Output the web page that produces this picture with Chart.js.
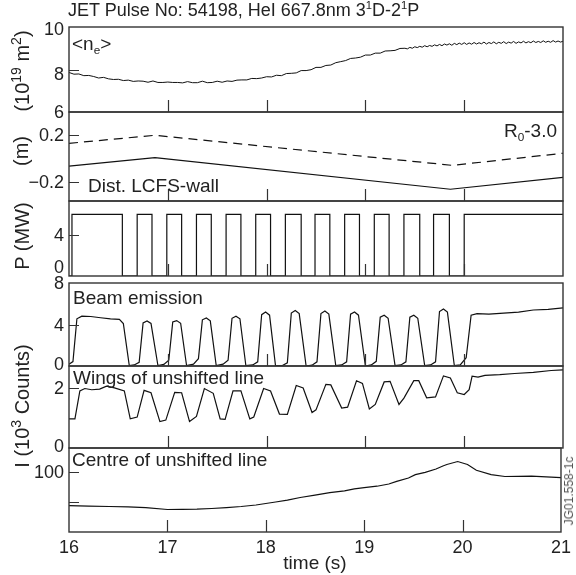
<!DOCTYPE html>
<html>
<head>
<meta charset="utf-8">
<title>JET Pulse No: 54198</title>
<script src="https://cdn.jsdelivr.net/npm/chart.js@4.4.1/dist/chart.umd.min.js"></script>
<style>
  body { margin: 0; background: #fff; }
  #fig { position: relative; width: 576px; height: 575px; overflow: hidden;
         font-family: "Liberation Sans", Arial, Helvetica, sans-serif; color: #222; }
  #fig canvas { position: absolute; left: 0; }
  .txt { position: absolute; white-space: nowrap; line-height: 1; transform: translateY(-50%); }
  .rot { position: absolute; white-space: nowrap; line-height: 1; transform: translate(-50%, -50%) rotate(-90deg); }
  sup, sub { font-size: 0.62em; line-height: 0; }
  .rot sup { font-size: 0.7em; }
</style>
</head>
<body>
<div id="fig">
  <canvas id="pNe"></canvas>
  <canvas id="pDist"></canvas>
  <canvas id="pPower"></canvas>
  <canvas id="pBeam"></canvas>
  <canvas id="pWings"></canvas>
  <canvas id="pCentre"></canvas>

  <div class="txt" style="left:68px;top:10px;font-size:18px">JET Pulse No: 54198, HeI 667.8nm 3<sup>1</sup>D-2<sup>1</sup>P</div>
  <div class="txt" style="left:72px;top:43px;font-size:19px">&lt;n<sub>e</sub>&gt;</div>
  <div class="txt" style="right:19px;top:130px;font-size:19px">R<sub>0</sub>-3.0</div>
  <div class="txt" style="left:88px;top:185px;font-size:19px">Dist. LCFS-wall</div>
  <div class="txt" style="left:73px;top:297px;font-size:19px">Beam emission</div>
  <div class="txt" style="left:73px;top:377px;font-size:19px">Wings of unshifted line</div>
  <div class="txt" style="left:72px;top:459px;font-size:19px">Centre of unshifted line</div>

  <div class="rot" style="left:22px;top:71px;font-size:20px">(10<sup>19</sup> m<sup>2</sup>)</div>
  <div class="rot" style="left:21px;top:151px;font-size:20px">(m)</div>
  <div class="rot" style="left:22px;top:236px;font-size:20px">P (MW)</div>
  <div class="rot" style="left:22px;top:406px;font-size:20px">I (10<sup>3</sup> Counts)</div>
  <div class="rot" style="left:569px;top:491px;font-size:12px;color:#555">JG01.558-1c</div>
</div>

<script>
// line averaged density <ne>, 10^19 m^-2
const neTime = [16,16.05,16.1,16.15,16.2,16.25,16.3,16.35,16.4,16.45,16.5,16.55,16.6,16.65,16.7,16.75,16.8,16.85,16.9,16.95,
  17,17.05,17.1,17.15,17.2,17.25,17.3,17.35,17.4,17.45,17.5,17.55,17.6,17.65,17.7,17.75,17.8,17.85,17.9,17.95,
  18,18.05,18.1,18.15,18.2,18.25,18.3,18.35,18.4,18.45,18.5,18.55,18.6,18.65,18.7,18.75,18.8,18.85,18.9,18.95,
  19,19.05,19.1,19.15,19.2,19.25,19.3,19.35,
  19.4,19.425,19.45,19.475,19.5,19.525,19.55,19.575,19.6,19.625,19.65,19.675,19.7,19.725,19.75,19.775,
  19.8,19.825,19.85,19.875,19.9,19.925,19.95,19.975,20,20.025,20.05,20.075,20.1,20.125,20.15,20.175,
  20.2,20.225,20.25,20.275,20.3,20.325,20.35,20.375,20.4,20.425,20.45,20.475,20.5,20.525,20.55,20.575,
  20.6,20.625,20.65,20.675,20.7,20.725,20.75,20.775,20.8,20.825,20.85,20.875,20.9,20.925,20.95,20.975,21];
const neValues = [7.86,7.78,7.79,7.71,7.72,7.67,7.60,7.63,7.56,7.53,
  7.54,7.48,7.50,7.44,7.46,7.45,7.40,7.46,7.39,7.39,
  7.41,7.39,7.39,7.37,7.43,7.38,7.38,7.45,7.38,7.39,
  7.45,7.40,7.46,7.44,7.50,7.51,7.51,7.58,7.57,7.60,
  7.66,7.65,7.73,7.71,7.81,7.82,7.84,7.95,7.95,7.99,
  8.10,8.10,8.19,8.21,8.32,8.37,8.42,8.52,8.54,8.58,
  8.68,8.68,8.77,8.77,8.87,8.88,8.90,8.99,
  9.00,8.97,9.04,9.00,9.07,9.03,9.09,9.05,9.12,9.07,9.13,9.09,9.16,9.11,9.18,9.12,
  9.20,9.15,9.21,9.14,9.23,9.17,9.24,9.18,9.26,9.18,9.25,9.19,9.27,9.20,9.26,9.21,
  9.29,9.20,9.27,9.22,9.30,9.21,9.28,9.23,9.31,9.22,9.29,9.24,9.32,9.23,9.30,9.25,
  9.33,9.25,9.31,9.26,9.34,9.27,9.32,9.27,9.35,9.28,9.33,9.28,9.36,9.29,9.34,9.29,9.33];

// distances (m)
const distTime = [16, 16.87, 19.86, 21];
const distValues = [-0.068, 0.005, -0.266, -0.165];
const r0Time = [16, 16.87, 19.88, 21];
const r0Values = [0.128, 0.197, -0.061, 0.043];

// NBI power (MW), value holds from each time to the next
const powerTime = [16,16.03,16.54,16.69,16.84,16.99,17.14,17.29,17.44,17.59,17.74,17.89,18.04,18.19,
  18.35,18.49,18.64,18.79,18.94,19.09,19.24,19.39,19.55,19.69,19.85,20.0,21];
const powerValues = [0,6,0,6,0,6,0,6,0,6,0,6,0,6,0,6,0,6,0,6,0,6,0,6,0,6,6];

// beam emission (10^3 counts)
const beamTime = [16.00,16.04,16.08,16.13,16.22,16.32,16.42,16.51,16.55,16.61,
  16.66,16.71,16.75,16.79,16.83,16.90,
  16.96,17.01,17.05,17.09,17.13,17.19,
  17.26,17.31,17.35,17.39,17.43,17.49,
  17.56,17.61,17.65,17.69,17.73,17.79,
  17.86,17.91,17.95,17.99,18.03,18.09,
  18.16,18.21,18.25,18.29,18.33,18.40,
  18.46,18.51,18.55,18.59,18.63,18.70,
  18.76,18.81,18.85,18.89,18.93,19.00,
  19.06,19.11,19.15,19.19,19.23,19.30,
  19.36,19.41,19.45,19.49,19.53,19.60,
  19.66,19.71,19.75,19.79,19.83,19.90,
  19.96,20.02,20.07,20.13,20.25,20.40,20.55,20.70,20.85,21.00];
const beamValues = [0.18,0.43,4.55,4.80,4.77,4.65,4.55,4.50,4.10,0.05,
  0.10,0.35,4.15,4.34,4.10,0.05,
  0.15,0.55,4.25,4.38,4.12,0.05,
  0.18,0.70,4.45,4.63,4.35,0.05,
  0.18,0.55,4.60,4.80,4.55,0.05,
  0.10,0.40,4.95,5.20,4.90,0.05,
  0.05,0.30,5.10,5.34,5.05,0.00,
  0.08,0.40,5.05,5.30,5.00,0.05,
  0.10,0.40,5.00,5.20,4.90,0.00,
  0.10,0.45,4.70,4.90,4.60,0.05,
  0.10,0.40,4.70,4.90,4.60,0.05,
  0.10,0.40,5.25,5.50,5.20,0.05,
  0.10,0.80,4.90,5.05,5.00,5.10,5.20,5.40,5.45,5.60];

// wings of unshifted line (10^3 counts)
const wingsTime = [16.00,16.06,16.11,16.16,16.23,16.31,16.38,16.46,16.56,16.62,
  16.69,16.76,16.83,16.92,
  16.98,17.07,17.14,17.22,
  17.29,17.37,17.46,17.53,
  17.58,17.66,17.74,17.83,
  17.87,17.97,18.04,18.13,
  18.21,18.30,18.37,18.46,
  18.50,18.60,18.65,18.76,
  18.82,18.91,18.97,19.04,
  19.10,19.19,19.25,19.34,
  19.39,19.49,19.54,19.62,
  19.71,19.79,19.86,19.93,
  20.00,20.05,20.08,20.14,20.21,20.36,20.51,20.70,20.88,21.00];
const wingsValues = [0.97,0.97,1.90,1.98,1.94,1.96,2.06,2.00,1.90,0.97,
  1.03,1.92,1.84,0.88,
  0.93,1.85,1.84,0.88,
  1.05,1.98,1.82,0.97,
  0.95,1.90,1.90,0.97,
  1.03,1.98,1.90,1.13,
  1.12,2.08,2.00,1.18,
  1.27,2.12,2.10,1.33,
  1.36,2.24,2.15,1.30,
  1.45,2.20,2.22,1.45,
  1.66,2.24,2.24,1.67,
  1.70,2.40,2.33,1.84,
  1.78,1.94,2.39,2.36,2.42,2.44,2.48,2.52,2.58,2.60];

// centre of unshifted line (10^3 counts)
const centreTime = [16.00,16.20,16.41,16.60,16.78,17.00,17.15,17.30,17.45,17.60,17.75,17.90,18.00,18.10,18.22,
  18.35,18.50,18.65,18.80,18.90,19.00,19.13,19.25,19.33,19.45,19.52,19.62,19.73,19.80,19.84,19.95,
  20.05,20.14,20.29,20.43,20.70,21.00];
const centreValues = [43.8,43.2,42.5,41.8,40.6,37.5,37.8,38.1,39.2,40.6,42.5,45.0,47.5,50.0,53.0,
  57.5,61.5,65.6,68.5,71.9,74.0,76.3,80.0,84.4,90.0,95.6,99.5,105.0,110.0,112.5,117.5,
  112.5,103.0,95.6,92.5,93.0,90.6];

const xTickMarks = [17, 18, 19, 20];

function points(times, values) {
  return times.map((t, i) => ({ x: t, y: values[i] }));
}

Chart.defaults.font.family = '"Liberation Sans", Arial, Helvetica, sans-serif';
Chart.defaults.color = '#222';

// box, inward tick marks and y labels for every panel
const framePlugin = {
  id: 'frame',
  afterDraw(chart, args, opts) {
    const { ctx, chartArea: a } = chart;
    const x = chart.scales.x;
    const y = chart.scales.y;
    ctx.save();
    ctx.strokeStyle = '#333';
    ctx.lineWidth = 1.4;
    ctx.strokeRect(a.left, a.top, a.right - a.left, a.bottom - a.top);
    ctx.lineWidth = 1.2;
    ctx.beginPath();
    (opts.xMarks || []).forEach(v => {
      const px = Math.round(x.getPixelForValue(v)) + 0.5;
      ctx.moveTo(px, a.bottom);
      ctx.lineTo(px, a.bottom - 12);
    });
    (opts.yMarks || []).forEach(v => {
      const py = Math.round(y.getPixelForValue(v)) + 0.5;
      ctx.moveTo(a.left, py);
      ctx.lineTo(a.left + 10, py);
    });
    ctx.stroke();
    ctx.fillStyle = '#222';
    ctx.font = '18px "Liberation Sans", Arial, sans-serif';
    ctx.textAlign = 'right';
    ctx.textBaseline = 'alphabetic';
    (opts.yLabels || []).forEach(l => {
      ctx.fillText(l.text, a.left - 5, y.getPixelForValue(l.v) + 6.4 + (l.dy || 0));
    });
    ctx.restore();
  }
};

function makePanel(p) {
  const canvas = document.getElementById(p.id);
  const padTop = 12;
  const padBottom = p.timeAxis ? 0 : 12;
  const axisH = p.timeAxis ? 43 : 0;
  canvas.width = 576;
  canvas.height = padTop + (p.bottom - p.top) + padBottom + axisH;
  canvas.style.top = (p.top - padTop) + 'px';

  const xScale = p.timeAxis ? {
    type: 'linear', min: 16, max: 21,
    ticks: { stepSize: 1, padding: 5, color: '#222', font: { size: 18 } },
    grid: { display: false, drawTicks: false },
    border: { display: false },
    title: { display: true, text: 'time (s)', color: '#222', font: { size: 19 }, padding: { top: 3, bottom: 0 } },
    afterFit: s => { s.height = axisH; }
  } : { type: 'linear', min: 16, max: 21, display: false };

  return new Chart(canvas.getContext('2d'), {
    type: 'line',
    data: { datasets: p.datasets },
    plugins: [framePlugin],
    options: {
      responsive: false,
      animation: false,
      events: [],
      layout: { padding: { top: padTop, bottom: padBottom, left: 0, right: 13 } },
      elements: {
        point: { radius: 0 },
        line: { tension: 0, borderWidth: 1.2, borderColor: '#111' }
      },
      plugins: {
        legend: { display: false },
        tooltip: { enabled: false },
        frame: { xMarks: xTickMarks, yMarks: p.marks, yLabels: p.labels }
      },
      scales: {
        x: xScale,
        y: {
          min: p.yMin, max: p.yMax,
          ticks: { display: false },
          grid: { display: false },
          border: { display: false },
          afterFit: s => { s.width = 69; }
        }
      }
    }
  });
}

document.addEventListener('DOMContentLoaded', function() {
  makePanel({
    id: 'pNe', top: 27, bottom: 112, yMin: 6, yMax: 10, marks: [8],
    labels: [{ v: 10, text: '10', dy: 2 }, { v: 8, text: '8', dy: 4 }, { v: 6, text: '6' }],
    datasets: [{ data: points(neTime, neValues), borderWidth: 1 }]
  });
  makePanel({
    id: 'pDist', top: 112, bottom: 201, yMin: -0.367, yMax: 0.397, marks: [0.2, -0.2],
    labels: [{ v: 0.2, text: '0.2' }, { v: -0.2, text: '\u22120.2' }],
    datasets: [
      { data: points(r0Time, r0Values), borderDash: [9, 6] },
      { data: points(distTime, distValues) }
    ]
  });
  makePanel({
    id: 'pPower', top: 201, bottom: 276, yMin: 0, yMax: 7.3, marks: [4],
    labels: [{ v: 4, text: '4' }, { v: 0, text: '0', dy: -9 }],
    datasets: [{ data: points(powerTime, powerValues), stepped: 'before' }]
  });
  makePanel({
    id: 'pBeam', top: 283, bottom: 366, yMin: 0, yMax: 8, marks: [4],
    labels: [{ v: 8, text: '8' }, { v: 4, text: '4' }, { v: 0, text: '0', dy: -2 }],
    datasets: [{ data: points(beamTime, beamValues) }]
  });
  makePanel({
    id: 'pWings', top: 366, bottom: 448, yMin: 0, yMax: 2.73, marks: [2],
    labels: [{ v: 2, text: '2' }, { v: 0, text: '0', dy: -2 }],
    datasets: [{ data: points(wingsTime, wingsValues) }]
  });
  makePanel({
    id: 'pCentre', top: 448, bottom: 532, yMin: 0, yMax: 140, marks: [100, 50], timeAxis: true,
    labels: [{ v: 100, text: '100' }],
    datasets: [{ data: points(centreTime, centreValues) }]
  });
});
</script>
</body>
</html>
